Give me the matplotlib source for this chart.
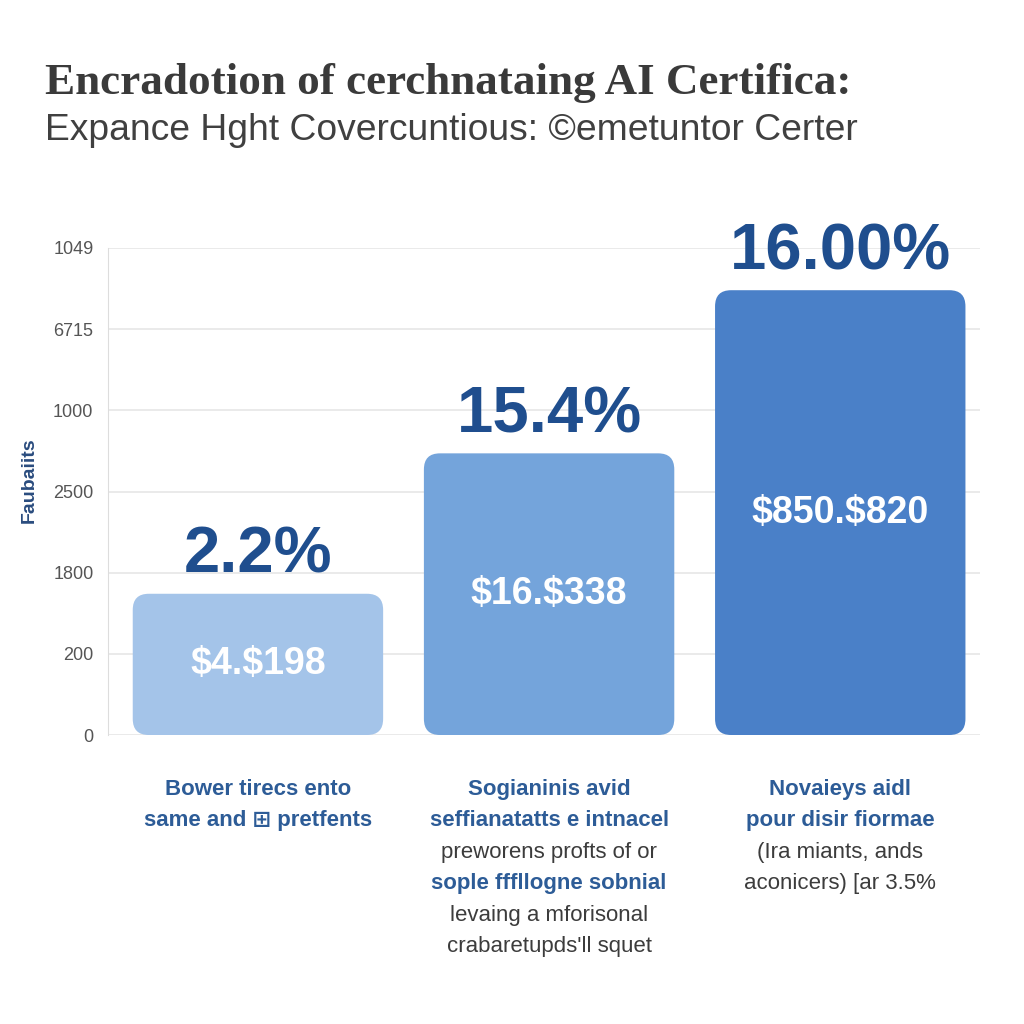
import matplotlib
matplotlib.use("Agg")
import matplotlib.pyplot as plt
from matplotlib.patches import FancyBboxPatch

# ── Data ──────────────────────────────────────────────────────────────────────
tick_labels = ["0", "200", "1800", "2500", "1000", "6715", "1049"]
bar_heights = [1.74, 3.47, 5.48]          # in tick-slot units
pct_labels = ["2.2%", "15.4%", "16.00%"]
value_labels = [r"\$4.\$198", r"\$16.\$338", r"\$850.\$820"]
bar_colors = ["#A4C4E9", "#74A4DB", "#4A80C8"]

cat_lines = [
    [("Bower tirecs ento", "b"), ("same and \u229e pretfents", "b")],
    [("Sogianinis avid", "b"), ("seffianatatts e intnacel", "b"),
     ("preworens profts of or", "g"), ("sople fffllogne sobnial", "b"),
     ("levaing a mforisonal", "g"), ("crabaretupds'll squet", "g")],
    [("Novaieys aidl", "b"), ("pour disir fiormae", "b"),
     ("(Ira miants, ands", "g"), ("aconicers) [ar 3.5%", "g")],
]

title = "Encradotion of cerchnataing AI Certifica:"
subtitle = "Expance Hght Covercuntious: \u00a9emetuntor Certer"
ylabel = "Faubaiits"

DARK_BLUE = "#1F4E8E"
TXT_BLUE = "#2D5C97"
TXT_GRAY = "#3C3C3C"
SANS = ["Liberation Sans", "DejaVu Sans"]

fig = plt.figure(figsize=(10.24, 10.24), dpi=100)
fig.patch.set_facecolor("white")
ax = fig.add_axes([108 / 1024, 289 / 1024, 872 / 1024, 487 / 1024])

x = list(range(len(bar_heights)))
w = 0.86
ax.set_xlim(-0.515, 2.48)
ax.set_ylim(0, 6)

# rounded bars
for xi, h, c in zip(x, bar_heights, bar_colors):
    p = FancyBboxPatch((xi - w / 2, 0), w, h,
                       boxstyle="round,pad=0,rounding_size=0.055",
                       mutation_aspect=3.6, facecolor=c, edgecolor="none",
                       zorder=3)
    ax.add_patch(p)
    ax.annotate(pct_labels[xi], (xi, h), xytext=(0, 15), textcoords="offset points",
                ha="center", va="baseline", fontsize=47, fontweight="bold",
                color=DARK_BLUE, family=SANS, annotation_clip=False)
    ax.text(xi, h / 2, value_labels[xi], ha="center", va="center",
            fontsize=27, fontweight="bold", color="white",
            family=SANS, zorder=4)

ax.set_yticks(range(len(tick_labels)))
ax.set_yticklabels(tick_labels, fontsize=13, color="#555555", family=SANS)
ax.set_xticks([])
ax.tick_params(axis="y", length=0, pad=10.5)
ax.grid(axis="y", color="#E6E6E6", linewidth=1.2, zorder=0)
ax.set_axisbelow(True)
for s in ["top", "right", "bottom"]:
    ax.spines[s].set_visible(False)
ax.spines["left"].set_color("#DDDDDD")
ax.set_ylabel(ylabel, fontsize=14, fontweight="bold", color="#2A4C7E", family=SANS)
ax.yaxis.set_label_coords(-0.08, 0.524)

# category descriptions under the bars
for xi, lines in zip(x, cat_lines):
    for j, (txt, kind) in enumerate(lines):
        ax.annotate(txt, (xi, 0), xytext=(0, -39 - j * 31.5 / 1.389),
                    textcoords="offset points", ha="center", va="center",
                    fontsize=16, annotation_clip=False,
                    fontweight="bold" if kind == "b" else "normal",
                    color=TXT_BLUE if kind == "b" else TXT_GRAY,
                    family=SANS)

fig.text(45 / 1024, 1 - 83 / 1024, title, ha="left", va="center", fontsize=32.5,
         fontweight="bold", color="#3A3A3A", family="Liberation Serif")
fig.text(45 / 1024, 1 - 130 / 1024, subtitle, ha="left", va="center", fontsize=26.8,
         color="#404040", family=SANS)

fig.savefig("out.png", dpi=100, facecolor="white")
